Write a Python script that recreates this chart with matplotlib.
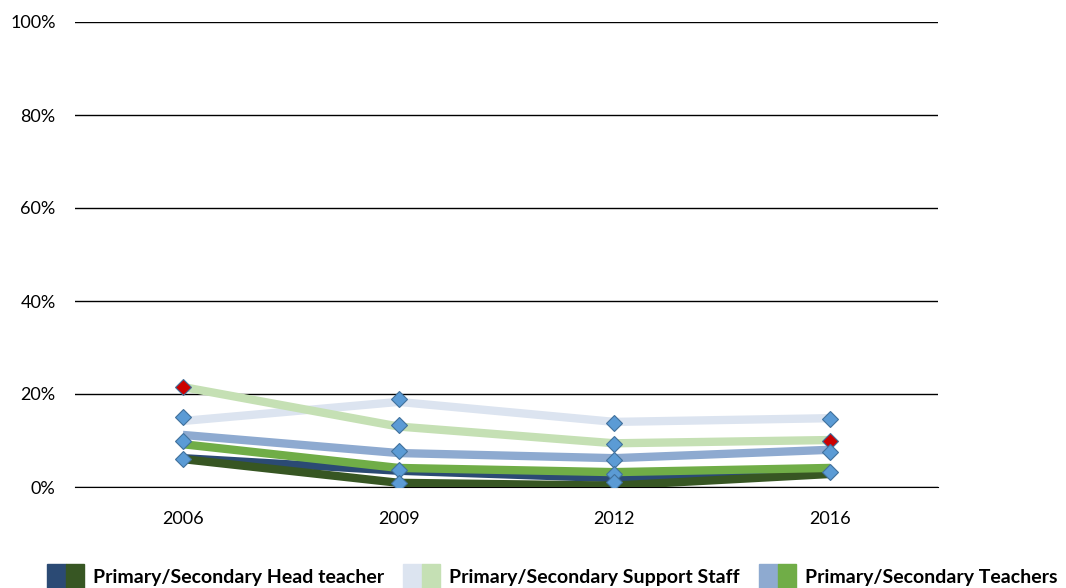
import numpy as np
import matplotlib
matplotlib.use('Agg')
import matplotlib.pyplot as plt
from matplotlib.patches import Patch
from matplotlib.legend_handler import HandlerTuple

plt.rcParams['font.family'] = ['Lato', 'DejaVu Sans']

years = ['2006', '2009', '2012', '2016']

# line series (%)
prim_head = [6.2, 3.5, 1.9, 3.0]
sec_head = [6.0, 0.9, 0.3, 2.8]
prim_support = [14.2, 18.3, 14.0, 14.8]
sec_support = [21.5, 13.0, 9.4, 10.1]
prim_teach = [11.2, 7.3, 6.2, 8.0]
sec_teach = [9.2, 4.1, 3.2, 4.1]

# diamond markers drawn on top (%), per year
marker_vals = [[21.5, 15.0, 10.0, 6.0],
               [19.0, 13.3, 7.7, 3.7, 0.8],
               [13.8, 9.2, 5.8, 2.8, 1.0],
               [14.7, 9.8, 7.6, 3.3]]
marker_red = [[True, False, False, False],
              [False] * 5,
              [False] * 5,
              [False, True, False, False]]

c_prim_head = '#2B4A74'
c_sec_head = '#375623'
c_prim_sup = '#DCE4F0'
c_sec_sup = '#C5E0B4'
c_prim_tea = '#8EAAD0'
c_sec_tea = '#70AD47'

fig = plt.figure(figsize=(10.66, 5.88), dpi=100)
ax = fig.add_axes([75 / 1066, 1 - 487 / 588, 863 / 1066, 465 / 588])

x = np.arange(len(years))
lw = 6
ax.plot(x, prim_head, color=c_prim_head, lw=lw, solid_capstyle='butt', zorder=3)
ax.plot(x, sec_head, color=c_sec_head, lw=lw, solid_capstyle='butt', zorder=3)
ax.plot(x, prim_support, color=c_prim_sup, lw=lw, solid_capstyle='butt', zorder=3)
ax.plot(x, sec_support, color=c_sec_sup, lw=lw, solid_capstyle='butt', zorder=3)
ax.plot(x, prim_teach, color=c_prim_tea, lw=lw, solid_capstyle='butt', zorder=3)
ax.plot(x, sec_teach, color=c_sec_tea, lw=lw, solid_capstyle='butt', zorder=3)

for i, vals in enumerate(marker_vals):
    for v, red in zip(vals, marker_red[i]):
        ax.plot(i, v, marker='D', ms=8, mfc='#CC0000' if red else '#5B9BD5',
                mec='#41719C', mew=0.8, zorder=5)

ax.set_xlim(-0.5, 3.5)
ax.set_ylim(0, 100)
ax.set_xticks(x)
ax.set_xticklabels(years)
ax.set_yticks(np.arange(0, 101, 20))
ax.set_yticklabels(['%d%%' % v for v in range(0, 101, 20)])
ax.yaxis.grid(True, color='#000000', lw=1)
ax.set_axisbelow(True)
for s in ['left', 'right', 'top']:
    ax.spines[s].set_visible(False)
ax.spines['bottom'].set_color('#000000')
ax.tick_params(axis='both', length=0, labelsize=13, colors='#000000')
ax.tick_params(axis='x', pad=17)
ax.tick_params(axis='y', pad=14)

handles = [(Patch(color=c_prim_head), Patch(color=c_sec_head)),
           (Patch(color=c_prim_sup), Patch(color=c_sec_sup)),
           (Patch(color=c_prim_tea), Patch(color=c_sec_tea))]
labels = ['Primary/Secondary Head teacher', 'Primary/Secondary Support Staff',
          'Primary/Secondary Teachers']
fig.legend(handles, labels, handler_map={tuple: HandlerTuple(ndivide=None, pad=0)},
           loc='lower center', bbox_to_anchor=(0.518, -0.03), ncol=3, frameon=False,
           prop={'weight': 'bold', 'size': 14}, handlelength=1.9, handleheight=1.5,
           handletextpad=0.45, columnspacing=1.0)

fig.savefig('out.png', dpi=100)
